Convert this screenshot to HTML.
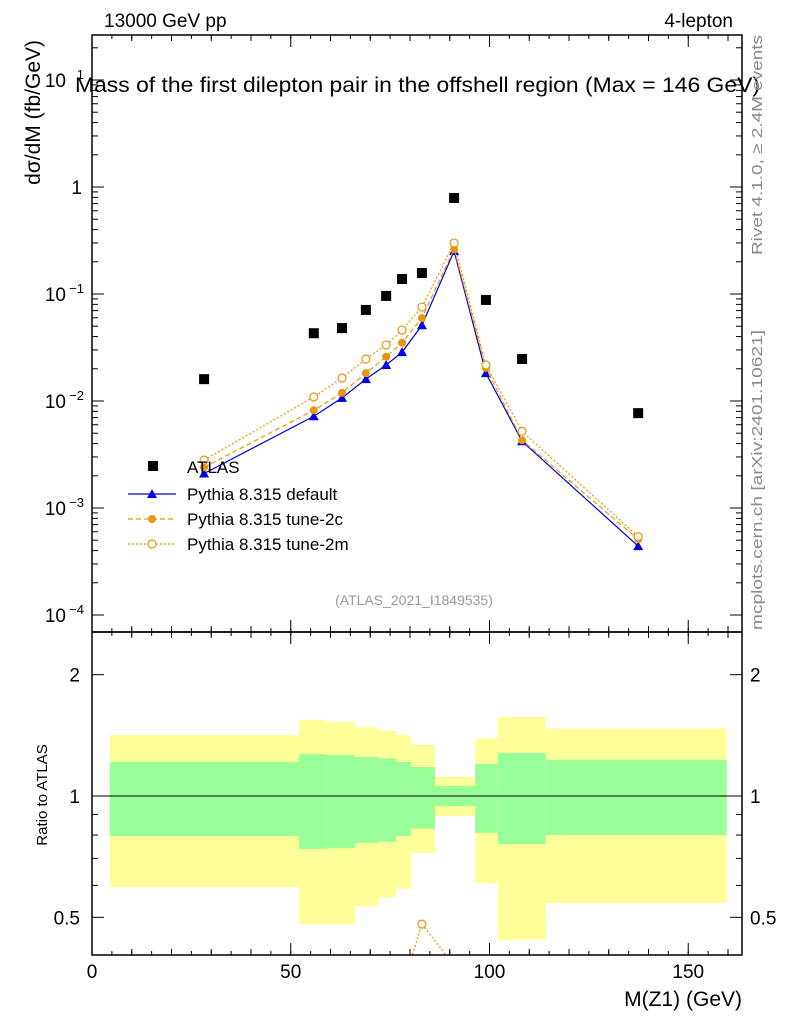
<!DOCTYPE html>
<html><head><meta charset="utf-8"><style>
html,body{margin:0;background:#fff;overflow:hidden;width:786px;height:1024px;}
svg{display:block;font-family:"Liberation Sans",sans-serif;}
</style></head><body>
<svg id="c" width="786" height="1024" xmlns="http://www.w3.org/2000/svg"></svg>
<script>
const xs=[28.2,55.8,62.9,68.9,74,78,83,91.1,99.1,108.2,137.4];
const atlas=[0.016,0.043,0.048,0.071,0.096,0.138,0.157,0.79,0.088,0.0247,0.0077];
const pyDefault=[0.0021,0.0072,0.0107,0.016,0.0217,0.0286,0.051,0.252,0.0182,0.0042,0.00044];
const pyTune2c=[0.0024,0.0082,0.0119,0.0182,0.0259,0.035,0.0595,0.263,0.0204,0.0043,0.00051];
const pyTune2m=[0.0028,0.0109,0.0164,0.0247,0.0334,0.046,0.0755,0.30,0.0217,0.0052,0.00054];
const binEdges=[4.5,52.1,59.1,66.2,72.2,76.5,80.3,86.3,96.4,102.1,114.2,159.7];
const yelUp=[1.417,1.544,1.526,1.48,1.45,1.417,1.34,1.115,1.39,1.57,1.47];
const yelDn=[0.595,0.48,0.48,0.533,0.56,0.588,0.722,0.892,0.608,0.44,0.543];
const grnUp=[1.214,1.27,1.265,1.25,1.24,1.214,1.18,1.059,1.2,1.28,1.23];
const grnDn=[0.796,0.739,0.742,0.765,0.77,0.796,0.83,0.944,0.81,0.76,0.8];
const xTicks=[0,50,100,150];

const svg=document.getElementById('c');const NS='http://www.w3.org/2000/svg';
function el(t,a,p){const e=document.createElementNS(NS,t);for(const k in a)e.setAttribute(k,a[k]);(p||svg).appendChild(e);return e;}
const L=92,R=742,T=35,MB=632,RB=955;
const X=v=>L+v*3.975;
const Y=v=>187-Math.log10(v)*107;
const RY=v=>796-Math.log10(v)*403;

const defs=el('defs',{});
const c1=el('clipPath',{id:'cm'},defs);el('rect',{x:L,y:T,width:R-L,height:MB-T},c1);
const c2=el('clipPath',{id:'cr'},defs);el('rect',{x:L,y:MB,width:R-L,height:RB-MB},c2);

const gb=el('g',{'clip-path':'url(#cr)'});

for(let i=0;i<yelUp.length;i++){
 const x0=X(binEdges[i]),x1=X(binEdges[i+1]);
 const y=el('rect',{x:x0,y:RY(yelUp[i]),width:x1-x0,height:RY(yelDn[i])-RY(yelUp[i]),fill:'#ffff99'},gb);
 
 const g=el('rect',{x:x0,y:RY(grnUp[i]),width:x1-x0,height:RY(grnDn[i])-RY(grnUp[i]),fill:'#99ff99'},gb);
 
}
el('line',{x1:L,x2:R,y1:RY(1),y2:RY(1),stroke:'#000','stroke-width':1});

const series=[
 {d:pyDefault,c:'#0000e0',dash:'',m:'tri',n:'default'},
 {d:pyTune2c,c:'#e8960c',dash:'5,3',m:'dot',n:'tune-2c'},
 {d:pyTune2m,c:'#e8960c',dash:'2,2',m:'ring',n:'tune-2m'}];
function marker(m,x,y,c,g){
 if(m==='tri')return el('polygon',{points:`${x},${y-5} ${x-5},${y+4} ${x+5},${y+4}`,fill:c},g);
 if(m==='dot')return el('circle',{cx:x,cy:y,r:4,fill:c},g);
 return el('circle',{cx:x,cy:y,r:4,fill:'#fff',stroke:c,'stroke-width':1.2},g);
}
const gm=el('g',{'clip-path':'url(#cm)'});
const gr=el('g',{'clip-path':'url(#cr)'});
series.forEach(s=>{
 const p=el('polyline',{points:s.d.map((v,i)=>X(xs[i])+','+Y(v)).join(' '),fill:'none',stroke:s.c,'stroke-width':1.2,'stroke-dasharray':s.dash},gm);
 
 s.d.forEach((v,i)=>{const mk=marker(s.m,X(xs[i]),Y(v),s.c,gm);
  });
 const rp=el('polyline',{points:s.d.map((v,i)=>X(xs[i])+','+RY(v/atlas[i])).join(' '),fill:'none',stroke:s.c,'stroke-width':1.2,'stroke-dasharray':s.dash},gr);
 
 s.d.forEach((v,i)=>{const mk=marker(s.m,X(xs[i]),RY(v/atlas[i]),s.c,gr);
  });
});
atlas.forEach((v,i)=>{const r=el('rect',{x:X(xs[i])-5,y:Y(v)-5,width:10,height:10,fill:'#000'},gm);
 });

el('rect',{x:L,y:T,width:R-L,height:MB-T,fill:'none',stroke:'#000','stroke-width':1.5});
el('rect',{x:L,y:MB,width:R-L,height:RB-MB,fill:'none',stroke:'#000','stroke-width':1.5});

for(let v=0;v<=160;v+=10){const big=v%50===0;
 [[T,1],[MB,-1],[MB,1],[RB,-1]].forEach(([yy,d])=>el('line',{x1:X(v),x2:X(v),y1:yy,y2:yy+d*(big?12:6),stroke:'#000'}));}
for(let v=0;v<=160;v+=5){[[T,1],[MB,-1],[MB,1],[RB,-1]].forEach(([yy,d])=>el('line',{x1:X(v),x2:X(v),y1:yy,y2:yy+d*4,stroke:'#000'}));}
xTicks.forEach(v=>{const t=el('text',{x:X(v),y:978,'font-size':19,'text-anchor':'middle'});t.textContent=v;
 });

for(let e=-4;e<=1;e++){
 for(let k=1;k<10;k++){const y=Y(k*Math.pow(10,e));if(y<T||y>MB)continue;const w=k===1?12:6;
  el('line',{x1:L,x2:L+w,y1:y,y2:y,stroke:'#000'});el('line',{x1:R,x2:R-w,y1:y,y2:y,stroke:'#000'});}
}
const yl=[['10','1',10],['1','',1],['10','−1',0.1],['10','−2',0.01],['10','−3',0.001],['10','−4',0.0001]];
yl.forEach(([b,e,v])=>{const t=el('text',{x:e?L-26:L-10,y:Y(v)+7,'font-size':19,'text-anchor':'end'});
 
 t.textContent=b;if(e){const s=el('tspan',{'font-size':13,dy:-8,x:L-8,'text-anchor':'end'},t);s.textContent=e;}});
[0.5,0.6,0.7,0.8,0.9,1,2].forEach(v=>{const y=RY(v);const w=(v===1||v===2||v===0.5)?12:6;
 el('line',{x1:L,x2:L+w,y1:y,y2:y,stroke:'#000'});el('line',{x1:R,x2:R-w,y1:y,y2:y,stroke:'#000'});});
[['2',2],['1',1],['0.5',0.5]].forEach(([s,v])=>{
 let t=el('text',{x:L-12,y:RY(v)+7,'font-size':19,'text-anchor':'end'});t.textContent=s;
 
 t=el('text',{x:R+8,y:RY(v)+7,'font-size':19});t.textContent=s;
 });

function txt(x,y,s,a,n){const t=el('text',Object.assign({x:x,y:y},a));t.textContent=s;
 return t;}
txt(104,27,'13000 GeV pp',{'font-size':19},'collision-label');
txt(733,27,'4-lepton',{'font-size':19,'text-anchor':'end'},'process-label');
txt(75,92,'Mass of the first dilepton pair in the offshell region (Max = 146 GeV)',{'font-size':21,textLength:685,lengthAdjust:'spacingAndGlyphs'},'plot-title');
txt(742,1006,'M(Z1) (GeV)',{'font-size':21,'text-anchor':'end'},'x-axis-title');
txt(40,40,'dσ/dM (fb/GeV)',{'font-size':21,'text-anchor':'end',transform:'rotate(-90 40 40)'},'y-axis-title');
txt(42,800,'Ratio to ATLAS',{'font-size':15,'text-anchor':'middle',transform:'rotate(-90 42 795)'},'ratio-axis-title');
txt(762,255,'Rivet 4.1.0, ≥ 2.4M events',{'font-size':15,fill:'#888',transform:'rotate(-90 762 255)',textLength:220,lengthAdjust:'spacingAndGlyphs'},'rivet-label');
txt(762,630,'mcplots.cern.ch [arXiv:2401.10621]',{'font-size':15,fill:'#888',transform:'rotate(-90 762 630)',textLength:300,lengthAdjust:'spacingAndGlyphs'},'mcplots-label');
txt(414,605,'(ATLAS_2021_I1849535)',{'font-size':14,fill:'#999','text-anchor':'middle'},'analysis-id');

const lg=el('g',{});
el('rect',{x:148,y:461,width:10,height:10,fill:'#000'},lg);
txt(187,473,'ATLAS',{'font-size':17},'legend-entry-atlas');
const ly=[494,519,544];
series.forEach((s,i)=>{el('line',{x1:128,x2:176,y1:ly[i],y2:ly[i],stroke:s.c,'stroke-width':1.2,'stroke-dasharray':s.dash},lg);
 marker(s.m,152,ly[i],s.c,lg);
 txt(187,ly[i]+6,'Pythia 8.315 '+s.n,{'font-size':17},'legend-entry-'+s.n);});
</script>
</body></html>
